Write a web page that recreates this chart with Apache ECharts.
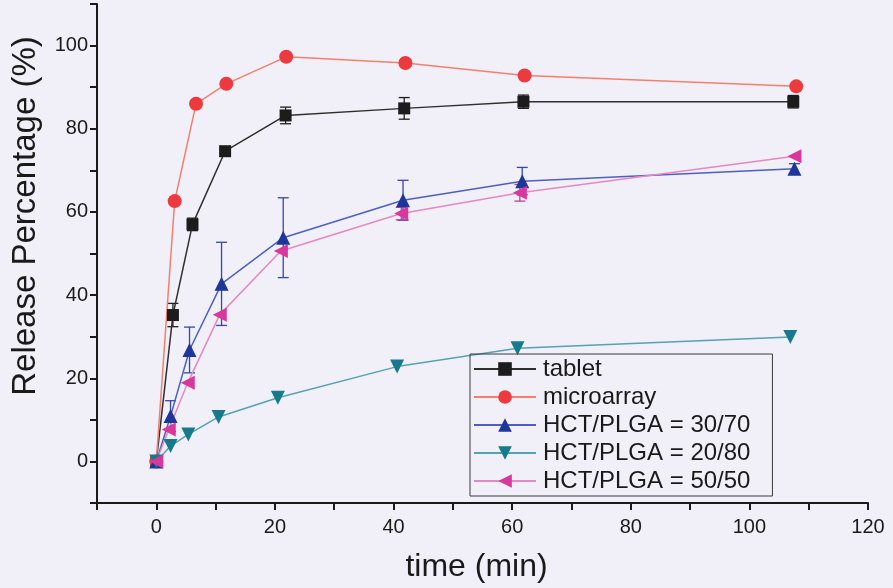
<!DOCTYPE html>
<html>
<head>
<meta charset="utf-8">
<script src="https://cdn.jsdelivr.net/npm/echarts@6/dist/echarts.min.js"></script>
<style>
html,body{margin:0;padding:0;background:#f1eff7;}
#chart{width:893px;height:588px;}
</style>
</head>
<body>
<div id="chart"></div>
<script>
// ---- data ----
const seriesNames = ['tablet', 'microarray', 'HCT/PLGA = 30/70', 'HCT/PLGA = 20/80', 'HCT/PLGA = 50/50'];

const tabletTime    = [0, 2.8, 6.1, 11.6, 21.8, 41.8, 61.9, 107.4];
const tabletRelease = [0, 35.2, 57.0, 74.6, 83.2, 84.9, 86.5, 86.5];
const tabletErr     = [0, 2.8, 1.5, 0.5, 2.0, 2.6, 1.6, 1.5];

const microTime    = [0, 3.1, 6.7, 11.8, 21.9, 42.0, 62.1, 107.9];
const microRelease = [0, 62.6, 86.0, 90.8, 97.3, 95.8, 92.8, 90.2];

const r3070Time    = [0, 2.4, 5.6, 11.0, 21.4, 41.6, 61.7, 107.6];
const r3070Release = [0, 10.9, 26.8, 42.7, 53.8, 62.8, 67.4, 70.4];
const r3070Err     = [0, 3.7, 5.5, 10.0, 9.6, 4.8, 3.3, 1.2];

const r2080Time    = [0, 2.4, 5.4, 10.5, 20.5, 40.6, 60.9, 106.9];
const r2080Release = [0, 3.7, 6.5, 10.7, 15.3, 22.8, 27.2, 29.9];

const r5050Time    = [0, 2.1, 5.3, 10.7, 21.0, 41.3, 61.3, 107.6];
const r5050Release = [0, 7.7, 18.9, 35.3, 50.6, 59.6, 64.6, 73.4];
const r5050Err     = [0, 0, 0, 0, 0, 1.5, 2.0, 0];

const xTickLabels = [0, 20, 40, 60, 80, 100, 120];
const yTickLabels = [0, 20, 40, 60, 80, 100];

const xTitle = 'time (min)';
const yTitle = 'Release Percentage (%)';

// ---- helpers ----
const FONT = 'Liberation Sans, Arial, sans-serif';
function pairs(t, v) { return t.map((x, i) => [x, v[i]]); }

function lineSeries(name, t, v, symbol, rotate, markerColor, lineColor) {
  return {
    name: name, type: 'line', data: pairs(t, v),
    symbol: symbol, symbolSize: symbol === 'rect' ? 12 : 14, symbolRotate: rotate,
    showSymbol: true,
    itemStyle: { color: markerColor, borderWidth: 0 },
    lineStyle: { color: lineColor, width: 1.5 },
    z: 3, animation: false
  };
}

function errSeries(t, v, e, color) {
  const data = [];
  t.forEach((x, i) => { if (e[i] > 0) data.push([x, v[i] - e[i], v[i] + e[i]]); });
  return {
    type: 'custom', name: 'err', data: data, silent: true, z: 2, animation: false,
    encode: { x: 0, y: [1, 2] },
    renderItem: function (params, api) {
      const x = api.value(0);
      const lo = api.coord([x, api.value(1)]);
      const hi = api.coord([x, api.value(2)]);
      const w = 5.5;
      const st = { stroke: color, lineWidth: 1.3 };
      return {
        type: 'group', children: [
          { type: 'line', shape: { x1: lo[0], y1: lo[1], x2: hi[0], y2: hi[1] }, style: st },
          { type: 'line', shape: { x1: lo[0] - w, y1: lo[1], x2: lo[0] + w, y2: lo[1] }, style: st },
          { type: 'line', shape: { x1: hi[0] - w, y1: hi[1], x2: hi[0] + w, y2: hi[1] }, style: st }
        ]
      };
    }
  };
}

const chart = echarts.init(document.getElementById('chart'), null, { renderer: 'canvas' });

const axisLineStyle = { color: '#1a1a1a', width: 2 };

const option = {
  backgroundColor: '#f1eff7',
  animation: false,
  textStyle: { fontFamily: FONT },
  grid: { left: 97, right: 25, top: 4, bottom: 84, containLabel: false },
  graphic: [{
    type: 'text', x: 26, y: 216, rotation: Math.PI / 2,
    style: {
      text: yTitle, fontFamily: FONT, fontSize: 33, fill: '#1a1a1a',
      textAlign: 'center', textVerticalAlign: 'middle', verticalAlign: 'middle'
    }
  }],
  legend: {
    data: seriesNames,
    orient: 'vertical',
    left: 470, top: 354,
    padding: [3, 22, 3, 3],
    itemGap: 4,
    itemWidth: 62, itemHeight: 17,
    borderColor: '#3a3a3a', borderWidth: 1,
    textStyle: { fontFamily: FONT, fontSize: 24, color: '#1a1a1a', lineHeight: 24, padding: [0, 0, 0, 2] },
    symbolRotate: 'inherit'
  },
  xAxis: {
    type: 'value', min: -10, max: 120, interval: 10,
    name: xTitle, nameLocation: 'middle', nameGap: 48,
    nameTextStyle: { fontFamily: FONT, fontSize: 32, color: '#1a1a1a', padding: [0, 12, 0, 0] },
    axisLine: { show: true, onZero: false, lineStyle: axisLineStyle },
    axisTick: { show: true, inside: false, length: 7, lineStyle: { color: '#1a1a1a', width: 2 } },
    axisLabel: {
      fontFamily: FONT, fontSize: 20, color: '#1a1a1a', margin: 14,
      formatter: function (v) { return xTickLabels.indexOf(v) >= 0 ? String(v) : ''; }
    },
    splitLine: { show: false }
  },
  yAxis: {
    type: 'value', min: -10, max: 110, interval: 10,
    axisLine: { show: true, onZero: false, lineStyle: axisLineStyle },
    axisTick: { show: true, inside: false, length: 7, lineStyle: { color: '#1a1a1a', width: 2 } },
    axisLabel: {
      fontFamily: FONT, fontSize: 20, color: '#1a1a1a', margin: 9,
      formatter: function (v) { return yTickLabels.indexOf(v) >= 0 ? String(v) : ''; }
    },
    splitLine: { show: false }
  },
  series: [
    errSeries(tabletTime, tabletRelease, tabletErr, '#1e1e1e'),
    errSeries(r3070Time, r3070Release, r3070Err, '#3546b0'),
    errSeries(r5050Time, r5050Release, r5050Err, '#c0409a'),
    lineSeries(seriesNames[0], tabletTime, tabletRelease, 'rect', 0, '#1c1c1c', '#2e2e2e'),
    lineSeries(seriesNames[1], microTime, microRelease, 'circle', 0, '#ec3a3e', '#f2806e'),
    lineSeries(seriesNames[2], r3070Time, r3070Release, 'triangle', 0, '#1d3699', '#4d5fc2'),
    lineSeries(seriesNames[3], r2080Time, r2080Release, 'triangle', 180, '#177a8c', '#55a2b3'),
    lineSeries(seriesNames[4], r5050Time, r5050Release, 'triangle', 90, '#d8379c', '#e688c2')
  ]
};

chart.setOption(option);
</script>
</body>
</html>
